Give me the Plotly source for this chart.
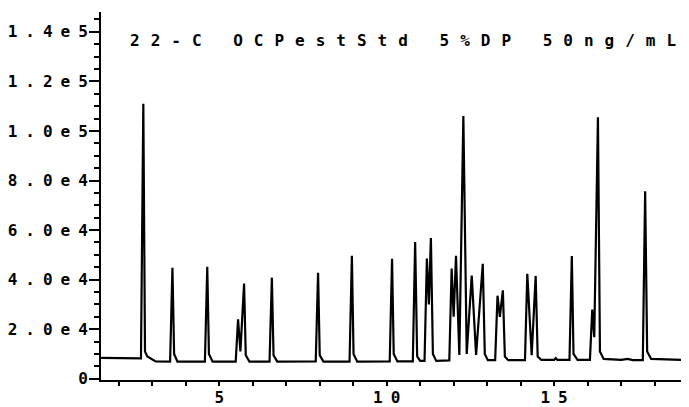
import plotly.graph_objects as go

# Chromatogram polyline points (time in min, signal counts)
time_min = [
    1.47, 2.66, 2.73, 2.78, 2.85, 3.10, 3.53,
    3.60, 3.65, 3.75, 4.57,
    4.64, 4.69, 4.80, 5.49,
    5.56, 5.63, 5.74, 5.79, 5.90, 6.50,
    6.57, 6.62, 6.73, 7.88,
    7.95, 8.00, 8.11, 8.89,
    8.96, 9.01, 9.12, 10.09,
    10.16, 10.21, 10.32, 10.78,
    10.85, 10.91, 11.00, 11.13,
    11.20, 11.26, 11.32, 11.38, 11.48, 11.87,
    11.94, 12.00, 12.07, 12.17, 12.29, 12.39, 12.54, 12.67, 12.87, 12.93, 13.02, 13.24,
    13.31, 13.38, 13.47, 13.53, 13.63, 14.13,
    14.20, 14.33, 14.45, 14.51, 14.62, 15.00, 15.05, 15.10, 15.46,
    15.53, 15.58, 15.70, 16.07,
    16.14, 16.20, 16.31, 16.37, 16.48, 17.00, 17.20, 17.35, 17.65,
    17.72, 17.78, 17.90, 19.03,
]
signal = [
    8400, 8200, 111000, 11000, 9000, 7000, 6900,
    44800, 10000, 6900, 6900,
    45200, 10000, 6900, 6900,
    24000, 11000, 38400, 9500, 6900, 6900,
    40800, 9500, 6900, 7000,
    42800, 9500, 6900, 6900,
    49600, 10000, 6900, 7000,
    48400, 10000, 7000, 7000,
    55200, 9000, 7200, 7200,
    48500, 30000, 56800, 10000, 7200, 7400,
    44500, 25000, 49600, 9600, 106000, 10000, 41600, 9600, 46400, 10000, 7500, 7500,
    33500, 25000, 35700, 9000, 7500, 7500,
    42400, 9500, 41500, 9000, 7600, 7600, 8300, 7600, 7600,
    49500, 10000, 7600, 7600,
    27900, 16800, 105500, 11000, 8000, 7600, 8000, 7500, 7500,
    75700, 11000, 8000, 7500,
]

y_tick_vals = [0, 20000, 40000, 60000, 80000, 100000, 120000, 140000]
y_tick_text = ["0", "2.0e4", "4.0e4", "6.0e4", "8.0e4", "1.0e5", "1.2e5", "1.4e5"]
x_tick_vals = [5, 10, 15]
x_tick_text = ["5", "10", "15"]
title_text = "22-C OCPestStd 5%DP 50ng/mL"


def spaced(s, px):
    if len(s) <= 1:
        return s
    return '<span style="letter-spacing:%dpx">%s</span>%s' % (px, s[:-1], s[-1])


fig = go.Figure()
fig.add_trace(go.Scatter(
    x=time_min, y=signal, mode="lines",
    line=dict(color="black", width=2.2),
    hoverinfo="skip", showlegend=False,
))

tick_font = dict(family="DejaVu Sans Mono", size=16, color="black", weight="bold")

fig.update_layout(
    width=681, height=399,
    margin=dict(l=93, r=0, t=4, b=24),
    paper_bgcolor="white", plot_bgcolor="white",
    xaxis=dict(
        range=[1.466, 19.03], showgrid=False, zeroline=False,
        showline=True, linecolor="black", linewidth=2,
        ticks="outside", ticklen=4, tickwidth=2, tickcolor="black",
        tickvals=x_tick_vals, ticktext=[spaced(t, 8) for t in x_tick_text],
        tickfont=tick_font, ticklabelstandoff=-2,
        minor=dict(dtick=1, tick0=0, ticks="outside", ticklen=4, tickwidth=2, tickcolor="black"),
    ),
    yaxis=dict(
        range=[-500, 148000], showgrid=False, zeroline=False,
        showline=True, linecolor="black", linewidth=2,
        ticks="outside", ticklen=10, tickwidth=2, tickcolor="black",
        tickvals=y_tick_vals, ticktext=[spaced(t, 8) for t in y_tick_text],
        tickfont=tick_font, ticklabelstandoff=-2,
        minor=dict(dtick=5000, tick0=0, ticks="outside", ticklen=5, tickwidth=1.5, tickcolor="black"),
    ),
    annotations=[dict(
        text=spaced(title_text, 11), xref="paper", yref="paper",
        x=0.046, y=0.922, xanchor="left", yanchor="middle", showarrow=False,
        font=dict(family="DejaVu Sans Mono", size=16, color="black", weight="bold"),
    )],
)

fig.write_html("out.html")
